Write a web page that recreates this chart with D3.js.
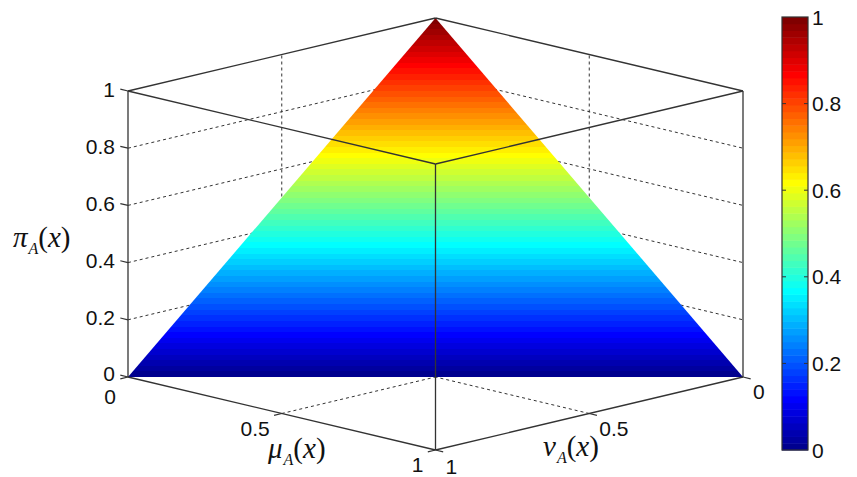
<!DOCTYPE html>
<html>
<head>
<meta charset="utf-8">
<script src="https://cdn.jsdelivr.net/npm/d3@7"></script>
<style>
  body { margin: 0; background: #fff; }
  text { fill: #111; }
</style>
</head>
<body>
<svg width="857" height="477"></svg>
<script>
// axis ticks
var piTicks = [0, 0.2, 0.4, 0.6, 0.8, 1];
var muTicks = [0, 0.5, 1];
var nuTicks = [0, 0.5, 1];
var cbTicks = [0, 0.2, 0.4, 0.6, 0.8, 1];
// surface pi = 1 - mu - nu, corners as [mu, nu, pi]
var surfaceCorners = [[1, 0, 0], [0, 1, 0], [0, 0, 1]];

var svg = d3.select("svg");

// oblique projection of the box, origin at the back floor corner
var ox = 435.5, oy = 304;
var muX = d3.scaleLinear().domain([0, 1]).range([0, 307.5]),
    muY = d3.scaleLinear().domain([0, 1]).range([0, 73]),
    nuX = d3.scaleLinear().domain([0, 1]).range([0, -307.5]),
    nuY = d3.scaleLinear().domain([0, 1]).range([0, 73]),
    piY = d3.scaleLinear().domain([0, 1]).range([0, -286]);

function proj(mu, nu, pi) {
  return [ox + muX(mu) + nuX(nu), oy + muY(mu) + nuY(nu) + piY(pi)];
}

// matlab jet(n)
function jet(n) {
  var m = Math.ceil(n / 4), u = [];
  for (var i = 1; i <= m; i++) u.push(i / m);
  for (var i = 1; i < m; i++) u.push(1);
  for (var i = m; i >= 1; i--) u.push(i / m);
  var g0 = Math.ceil(m / 2) - (n % 4 === 1 ? 1 : 0);
  var J = d3.range(n).map(() => [0, 0, 0]);
  u.forEach((v, k) => {
    var g = g0 + k + 1, r = g + m, b = g - m;
    if (g >= 1 && g <= n) J[g - 1][1] = v;
    if (r >= 1 && r <= n) J[r - 1][0] = v;
    if (b >= 1 && b <= n) J[b - 1][2] = v;
  });
  return J.map(c => d3.rgb(c[0] * 255, c[1] * 255, c[2] * 255).toString());
}
var cmap = jet(64);

var line = d3.line();
var gridColor = "#333";

// grid on back walls and floor
var grid = svg.append("g")
    .attr("stroke", gridColor).attr("stroke-width", 1)
    .attr("stroke-dasharray", "3,3").attr("fill", "none");

piTicks.filter(t => t > 0 && t < 1).forEach(t => {
  grid.append("path").attr("d", line([proj(0, 1, t), proj(0, 0, t)]));
  grid.append("path").attr("d", line([proj(0, 0, t), proj(1, 0, t)]));
});
nuTicks.filter(t => t > 0 && t < 1).forEach(t => {
  grid.append("path").attr("d", line([proj(0, t, 0), proj(0, t, 1)]));
  grid.append("path").attr("d", line([proj(1, t, 0), proj(0, t, 0)]));
});
muTicks.filter(t => t > 0 && t < 1).forEach(t => {
  grid.append("path").attr("d", line([proj(t, 0, 0), proj(t, 0, 1)]));
  grid.append("path").attr("d", line([proj(t, 1, 0), proj(t, 0, 0)]));
});

// hidden back edges
var edges = svg.append("g").attr("stroke", gridColor).attr("stroke-width", 1.2).attr("fill", "none");
[[[0, 0, 0], [0, 0, 1]], [[0, 1, 0], [0, 0, 0]], [[0, 0, 0], [1, 0, 0]]].forEach(e => {
  edges.append("path").attr("d", line(e.map(p => proj(p[0], p[1], p[2]))));
});

// surface gradient, colour by pi
var defs = svg.append("defs");
var grad = defs.append("linearGradient").attr("id", "jetGrad")
    .attr("gradientUnits", "userSpaceOnUse")
    .attr("x1", 0).attr("x2", 0)
    .attr("y1", proj(1, 0, 0)[1]).attr("y2", proj(0, 0, 1)[1]);
cmap.forEach((c, i) => {
  grad.append("stop").attr("offset", i / cmap.length).attr("stop-color", c);
  grad.append("stop").attr("offset", (i + 1) / cmap.length).attr("stop-color", c);
});

svg.append("path")
    .attr("d", line(surfaceCorners.map(p => proj(p[0], p[1], p[2]))) + "Z")
    .attr("fill", "url(#jetGrad)");

// visible box edges
var front = svg.append("g").attr("stroke", gridColor).attr("stroke-width", 1.3).attr("fill", "none");
[
  [[0, 1, 1], [0, 0, 1]], [[0, 0, 1], [1, 0, 1]], [[0, 1, 1], [1, 1, 1]], [[1, 1, 1], [1, 0, 1]],
  [[0, 1, 0], [0, 1, 1]], [[1, 0, 0], [1, 0, 1]], [[1, 1, 0], [1, 1, 1]],
  [[0, 1, 0], [1, 1, 0]], [[1, 1, 0], [1, 0, 0]]
].forEach(e => {
  front.append("path").attr("d", line(e.map(p => proj(p[0], p[1], p[2]))));
});

var tl = 0.025;
var font = "'Liberation Sans', Arial, sans-serif";
var ticks = svg.append("g").attr("stroke", gridColor).attr("stroke-width", 1.2);
var labels = svg.append("g").attr("font-family", font).attr("font-size", 21);

// pi axis on left edge
piTicks.forEach(t => {
  ticks.append("path").attr("d", line([proj(0, 1, t), proj(-tl, 1, t)]));
  var p = proj(0, 1, t);
  labels.append("text").attr("x", p[0] - 13).attr("y", p[1] - (t === 0 ? 4 : 2))
      .attr("text-anchor", "end").attr("dy", "0.36em").text(t);
});
// mu axis on left-front floor edge
muTicks.forEach(t => {
  ticks.append("path").attr("d", line([proj(t, 1, 0), proj(t, 1 + tl, 0)]));
  var p = proj(t, 1, 0);
  labels.append("text").attr("x", p[0] - 12).attr("y", p[1] + (t === 0 ? 19 : 16 - 2 * t))
      .attr("text-anchor", "end").attr("dy", "0.36em").text(t);
});
// nu axis on front-right floor edge
nuTicks.forEach(t => {
  ticks.append("path").attr("d", line([proj(1, t, 0), proj(1 + tl, t, 0)]));
  var p = proj(1, t, 0);
  labels.append("text").attr("x", p[0] + 10).attr("y", p[1] + 14 + 2 * t)
      .attr("text-anchor", "start").attr("dy", "0.36em").text(t);
});

// axis titles
function axisTitle(x, y, sym) {
  var t = svg.append("text").attr("x", x).attr("y", y)
      .attr("font-family", "'Liberation Serif', 'Times New Roman', serif")
      .attr("font-size", 29);
  t.append("tspan").attr("font-style", "italic").text(sym);
  t.append("tspan").attr("font-style", "italic").attr("font-size", 16).attr("dy", 7).attr("dx", 1).text("A");
  t.append("tspan").attr("dy", -7).text("(");
  t.append("tspan").attr("font-style", "italic").text("x");
  t.append("tspan").text(")");
}
axisTitle(13, 247, "\u03c0");
axisTitle(268, 458, "\u03bc");
axisTitle(543, 456, "\u03bd");

// colorbar
var cbX = 782, cbW = 26;
var cbY = d3.scaleLinear().domain([0, 1]).range([450, 17]);
var cb = svg.append("g");
cb.selectAll("rect").data(cmap).enter().append("rect")
    .attr("x", cbX).attr("width", cbW)
    .attr("y", (d, i) => cbY((i + 1) / cmap.length))
    .attr("height", (d, i) => cbY(i / cmap.length) - cbY((i + 1) / cmap.length) + 0.5)
    .attr("fill", d => d);
cb.append("rect").attr("x", cbX).attr("y", cbY(1)).attr("width", cbW).attr("height", cbY(0) - cbY(1))
    .attr("fill", "none").attr("stroke", gridColor).attr("stroke-width", 1.2);
cbTicks.forEach(t => {
  if (t > 0 && t < 1) {
    cb.append("path").attr("d", line([[cbX, cbY(t)], [cbX + 4, cbY(t)]])).attr("stroke", gridColor);
    cb.append("path").attr("d", line([[cbX + cbW - 4, cbY(t)], [cbX + cbW, cbY(t)]])).attr("stroke", gridColor);
  }
  cb.append("text").attr("x", cbX + cbW + 4).attr("y", cbY(t)).attr("dy", "0.36em")
      .attr("font-family", font).attr("font-size", 21).text(t);
});
</script>
</body>
</html>
